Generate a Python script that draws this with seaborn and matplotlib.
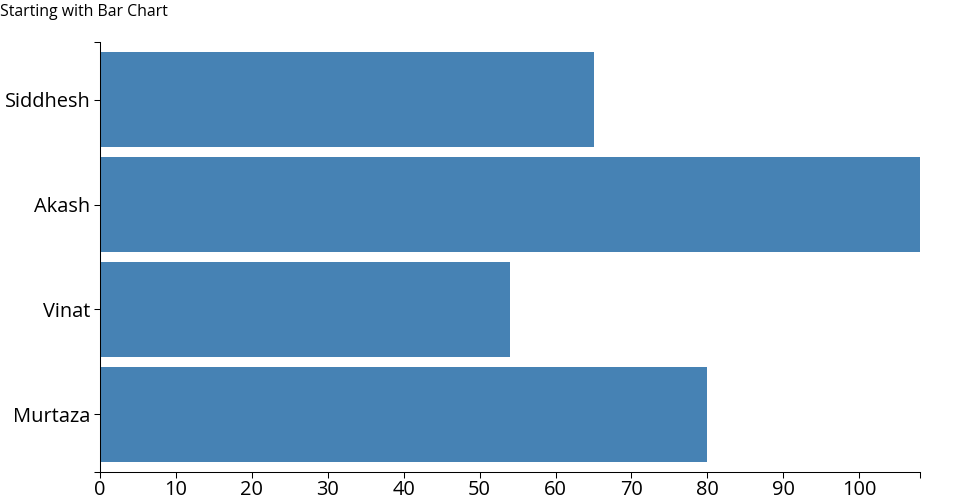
import matplotlib
matplotlib.use("Agg")
import matplotlib.pyplot as plt
import seaborn as sns
import pandas as pd

names = ["Siddhesh", "Akash", "Vinat", "Murtaza"]
scores = [65, 108, 54, 80]
xticks = [0, 10, 20, 30, 40, 50, 60, 70, 80, 90, 100]

sns.set_style("ticks")
plt.rcParams['font.family'] = ['Open Sans', 'DejaVu Sans']

df = pd.DataFrame({"name": names, "score": scores})

fig = plt.figure(figsize=(9.6, 5), dpi=100)
ax = fig.add_axes([100/960, 1 - 472/500, 820/960, 430/500])

sns.barplot(data=df, x="score", y="name", color="steelblue", saturation=1,
            width=0.9, linewidth=0, ax=ax)

ax.set_xlim(0, max(scores))
ax.set_ylim(len(names) - 1 + 0.55, -0.55)
ax.set_xticks(xticks)
ax.set_xticks([max(scores)], minor=True)
ax.set_yticks([-0.55, len(names) - 1 + 0.55], minor=True)
ax.set_xlabel("")
ax.set_ylabel("")

for s in ["top", "right"]:
    ax.spines[s].set_visible(False)
for s in ["left", "bottom"]:
    ax.spines[s].set_linewidth(0.75)
    ax.spines[s].set_color("black")

ax.tick_params(which="both", length=4.3, width=0.75, color="black",
               labelsize=14.4, labelcolor="black")
ax.tick_params(axis="x", which="major", pad=1.5)
ax.tick_params(axis="y", which="major", pad=2.5)

fig.text(0, 1 - 12/500, "Starting with Bar Chart", fontsize=11.4,
         ha="left", va="center", color="black")

fig.savefig("out.png", dpi=100)
